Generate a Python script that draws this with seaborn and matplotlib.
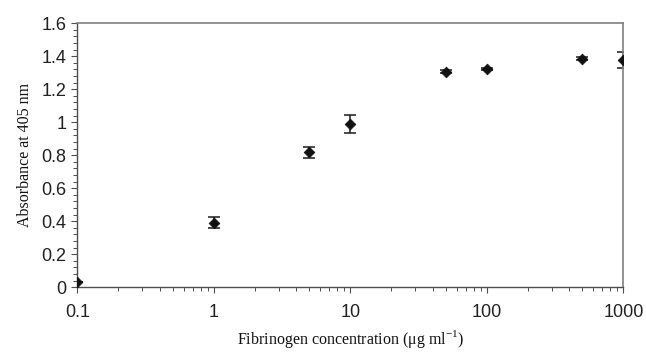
import matplotlib
matplotlib.use("Agg")
import matplotlib.pyplot as plt
import matplotlib.ticker as mticker
import numpy as np
import pandas as pd
import seaborn as sns

# Fibrinogen concentration (ug/ml) vs absorbance at 405 nm
concentration = [0.1, 1, 5, 10, 50, 100, 500, 1000]
absorbance = [0.032, 0.392, 0.818, 0.988, 1.307, 1.323, 1.385, 1.378]
abs_err = [0.0, 0.032, 0.034, 0.055, 0.008, 0.008, 0.008, 0.047]

df = pd.DataFrame({"conc": concentration, "abs": absorbance, "err": abs_err})

sns.set_theme(style="ticks")
plt.rcParams["font.family"] = ["Liberation Sans", "DejaVu Sans"]
plt.rcParams["mathtext.fontset"] = "custom"
plt.rcParams["mathtext.rm"] = "Liberation Serif"

fig = plt.figure(figsize=(6.46, 3.56), dpi=100)
ax = fig.add_axes([0.1197, 0.193, 0.9649 - 0.1197, 0.9346 - 0.193])

ax.errorbar(df["conc"], df["abs"], yerr=df["err"], fmt="none",
            ecolor="#1a1a1a", elinewidth=1.1, capsize=4, capthick=1.1, zorder=2)
sns.scatterplot(data=df, x="conc", y="abs", marker="D", s=30, color="#111111",
                edgecolor="#111111", linewidth=0.5, ax=ax, zorder=3)

ax.set_xscale("log")
ax.set_xlim(0.1, 1000)
ax.set_ylim(0, 1.6)
ax.xaxis.set_major_locator(mticker.LogLocator(base=10))
ax.xaxis.set_minor_locator(mticker.LogLocator(base=10, subs=np.arange(2, 10)))
ax.xaxis.set_minor_formatter(mticker.NullFormatter())
ax.xaxis.set_major_formatter(mticker.FuncFormatter(lambda v, p: f"{v:g}"))
ax.yaxis.set_major_locator(mticker.MultipleLocator(0.2))
ax.yaxis.set_minor_locator(mticker.MultipleLocator(0.04))
ax.yaxis.set_major_formatter(mticker.FuncFormatter(lambda v, p: f"{v:g}"))

for side in ["left", "bottom"]:
    ax.spines[side].set_color("#4d4d4d")
    ax.spines[side].set_linewidth(1.0)
for side in ["top", "right"]:
    ax.spines[side].set_visible(True)
    ax.spines[side].set_color("#808080")
    ax.spines[side].set_linewidth(1.2)

ax.tick_params(axis="both", which="major", direction="out", length=4, width=0.8,
               color="#4d4d4d", labelsize=13, labelcolor="#222222")
ax.tick_params(axis="both", which="minor", direction="out", length=3, width=0.7,
               color="#4d4d4d")
ax.tick_params(axis="x", which="major", pad=8)
ax.tick_params(axis="y", which="major", pad=4)

ax.set_xlabel(r"Fibrinogen concentration ($\mathrm{\mu}$g ml$^{\mathrm{-1}}$)",
              family="Liberation Serif", fontsize=11.5, labelpad=5, color="#111111")
ax.set_ylabel("Absorbance at 405 nm", family="Liberation Serif", fontsize=11.5,
              labelpad=6, color="#111111")

fig.savefig("out.png", dpi=100)
